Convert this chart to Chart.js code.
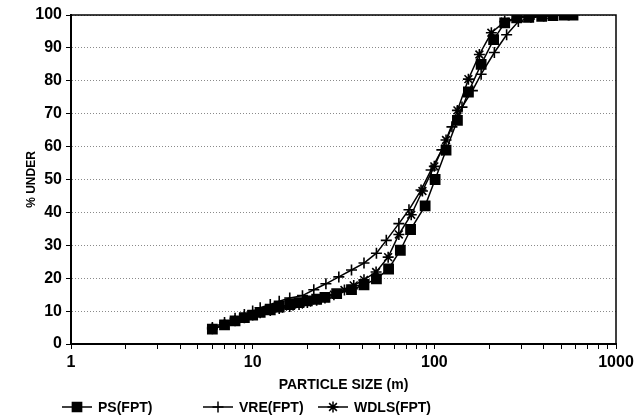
<!DOCTYPE html>
<html>
<head>
<meta charset="utf-8">
<script src="https://cdn.jsdelivr.net/npm/chart.js@4.4.1/dist/chart.umd.min.js"></script>
<style>
    html, body { margin: 0; padding: 0; background: #ffffff; }
    #wrap { width: 639px; height: 418px; }
</style>
</head>
<body>
<div id="wrap"><canvas id="psdChart"></canvas></div>
<script>
/* ===========================================
   DATA
=========================================== */

const psSize = [6.0, 7.0, 8.0, 9.0, 10, 11, 12.5, 14, 16, 18, 20, 22.5, 25, 29, 35, 41, 48, 56, 65, 74, 89, 101, 116, 134, 154, 181, 212, 244, 284, 331, 390, 450, 520, 580];
const psUnder = [4.5, 5.8, 7.0, 8.0, 8.8, 9.6, 10.4, 11.2, 12.0, 12.6, 13.1, 13.6, 14.2, 15.3, 16.5, 18.0, 19.8, 22.8, 28.5, 34.8, 42, 50, 58.9, 68, 76.6, 85, 92.5, 97.6, 99.1, 99.3, 99.6, 99.8, 100, 100];

const vreSize = [6.0, 7.0, 8.0, 9.0, 10, 11, 12.5, 14, 16, 18.8, 21.7, 25.3, 29.8, 35, 41, 48, 54.4, 63.8, 72.5, 84.5, 96, 110, 125, 142, 162, 181, 214, 250, 290, 340, 400, 460];
const vreUnder = [5.0, 6.5, 7.8, 9.0, 10.0, 11.0, 12.0, 13.0, 14.0, 14.7, 16.5, 18.3, 20.4, 22.5, 24.6, 27.6, 31.5, 36.6, 40.8, 46.8, 52.9, 59, 66, 72, 77, 82, 88.6, 94, 98, 99.3, 99.7, 100];

const wdlsSize = [6.0, 7.0, 8.0, 9.0, 10, 11, 12.5, 14, 16, 18, 20, 22.5, 25, 28, 32, 36, 41, 47.8, 55.7, 63.8, 74.6, 86, 100, 116, 134, 154, 177, 206, 244, 290, 340, 400];
const wdlsUnder = [4.6, 5.9, 7.1, 8.0, 8.8, 9.5, 10.2, 10.8, 11.4, 12.0, 12.6, 13.3, 14.0, 15.0, 16.4, 17.8, 19.5, 21.9, 26.4, 33.3, 39.3, 46.5, 54, 62, 71, 80.5, 88, 94.6, 98, 99.4, 99.8, 100];

const seriesNames = ["PS(FPT)", "VRE(FPT)", "WDLS(FPT)"];

const xTickValues = [1, 2, 3, 4, 5, 6, 7, 8, 9, 10, 20, 30, 40, 50, 60, 70, 80, 90, 100, 200, 300, 400, 500, 600, 700, 800, 900, 1000];
const xLabelValues = [1, 10, 100, 1000];

/* ===========================================
   HELPERS
=========================================== */

Chart.defaults.font.family = "'Liberation Sans', Arial, sans-serif";
Chart.defaults.color = "#000000";

function toPoints(xs, ys) {
    return xs.map((x, i) => ({ x: x, y: ys[i] }));
}

function seriesStyle(pointStyle, radius) {
    return {
        showLine: true,
        borderColor: "#000000",
        backgroundColor: "#000000",
        borderWidth: 1.5,
        pointStyle: pointStyle,
        pointRadius: radius,
        pointHoverRadius: radius,
        pointBackgroundColor: "#000000",
        pointBorderColor: "#000000",
        pointBorderWidth: 1.6
    };
}

// frame round the plot area
const framePlugin = {
    id: "frame",
    afterDraw(chart) {
        const { ctx, chartArea: a } = chart;
        ctx.save();
        ctx.strokeStyle = "#000000";
        ctx.lineWidth = 1.5;
        ctx.strokeRect(a.left, a.top, a.right - a.left, a.bottom - a.top);
        ctx.restore();
    }
};

// legend with line + marker, like the original
const legendStarts = [62, 203, 318];

const lineLegendPlugin = {
    id: "lineLegend",
    afterDraw(chart) {
        const ctx = chart.ctx;
        const y = 407;
        const lineLen = 30;
        ctx.save();
        ctx.font = "bold 14px 'Liberation Sans', Arial, sans-serif";
        ctx.textBaseline = "middle";
        ctx.textAlign = "left";
        chart.data.datasets.forEach((ds, i) => {
            const x0 = legendStarts[i];
            ctx.strokeStyle = "#000000";
            ctx.fillStyle = "#000000";
            ctx.lineWidth = 1.5;
            ctx.beginPath();
            ctx.moveTo(x0, y);
            ctx.lineTo(x0 + lineLen, y);
            ctx.stroke();
            Chart.helpers.drawPoint(ctx, {
                pointStyle: ds.pointStyle,
                radius: ds.pointRadius,
                rotation: 0,
                borderWidth: 1.5
            }, x0 + lineLen / 2, y);
            ctx.fillStyle = "#000000";
            ctx.fillText(ds.label, x0 + lineLen + 6, y + 1);
        });
        ctx.restore();
    }
};

/* ===========================================
   CHART
=========================================== */

const psdChart = new Chart(

    document.getElementById("psdChart"),

    {
        type: "scatter",

        data: {
            datasets: [
                Object.assign({ label: seriesNames[0], data: toPoints(psSize, psUnder) }, seriesStyle("rect", 6.5)),
                Object.assign({ label: seriesNames[1], data: toPoints(vreSize, vreUnder) }, seriesStyle("cross", 5.5)),
                Object.assign({ label: seriesNames[2], data: toPoints(wdlsSize, wdlsUnder) }, seriesStyle("star", 5.5))
            ]
        },

        options: {
            responsive: true,
            maintainAspectRatio: false,
            animation: false,
            layout: {
                padding: { top: 15, right: 23, bottom: 24, left: 0 }
            },
            plugins: {
                legend: { display: false },
                tooltip: { enabled: false }
            },
            scales: {
                x: {
                    type: "logarithmic",
                    min: 1,
                    max: 1000,
                    afterBuildTicks(scale) {
                        scale.ticks = xTickValues.map(v => ({ value: v }));
                    },
                    ticks: {
                        autoSkip: false,
                        maxRotation: 0,
                        padding: 4,
                        font: { size: 16, weight: "bold" },
                        callback: (v) => xLabelValues.includes(v) ? String(v) : ""
                    },
                    grid: {
                        drawOnChartArea: false,
                        drawTicks: true,
                        tickLength: 5,
                        tickColor: "#000000",
                        tickWidth: 1
                    },
                    border: { color: "#000000", width: 2 },
                    title: {
                        display: true,
                        text: "PARTICLE SIZE (m)",
                        font: { size: 14, weight: "bold" },
                        padding: { top: 1, bottom: 0 }
                    }
                },
                y: {
                    min: 0,
                    max: 100,
                    afterFit(scale) {
                        scale.width = 71;
                    },
                    ticks: {
                        stepSize: 10,
                        padding: 4,
                        font: { size: 16, weight: "bold" }
                    },
                    grid: {
                        color: "#8a8a8a",
                        lineWidth: 1,
                        tickLength: 5,
                        tickColor: "#000000",
                        tickWidth: 1
                    },
                    border: { color: "#000000", width: 2, dash: [1, 2] },
                    title: {
                        display: true,
                        text: "% UNDER",
                        font: { size: 12, weight: "bold" },
                        padding: { top: 24, bottom: 0 }
                    }
                }
            }
        },

        plugins: [framePlugin, lineLegendPlugin]
    }

);
</script>
</body>
</html>
